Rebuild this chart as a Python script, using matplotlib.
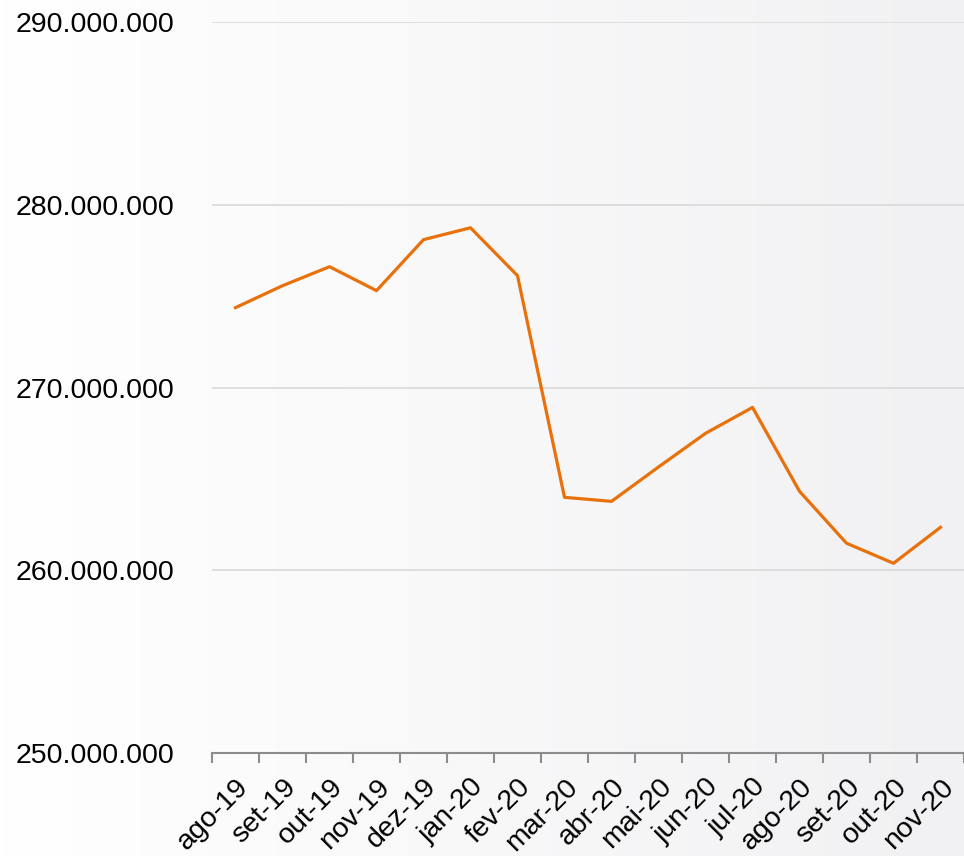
import numpy as np
import matplotlib.pyplot as plt
from matplotlib.colors import LinearSegmentedColormap
from matplotlib.transforms import ScaledTranslation
from matplotlib.ticker import FuncFormatter, FixedLocator

months = ["ago-19", "set-19", "out-19", "nov-19", "dez-19", "jan-20", "fev-20", "mar-20",
          "abr-20", "mai-20", "jun-20", "jul-20", "ago-20", "set-20", "out-20", "nov-20"]
values = [274.37, 275.57, 276.61, 275.30, 278.09, 278.74, 276.12, 263.99,
          263.77, 265.65, 267.49, 268.91, 264.32, 261.48, 260.38, 262.35]
values = [v * 1e6 for v in values]

plt.rcParams['font.family'] = ['Liberation Sans', 'DejaVu Sans']

fig = plt.figure(figsize=(9.64, 8.56), dpi=100)

# soft horizontal gradient behind everything
bg = fig.add_axes([0, 0, 1, 1], zorder=-10)
grad = np.linspace(0, 1, 256).reshape(1, -1)
bg.imshow(grad, aspect='auto', extent=[0, 1, 0, 1],
          cmap=LinearSegmentedColormap.from_list("bg", ["#ffffff", "#f1f1f3"]))
bg.set_axis_off()

W, H = 964, 856
ax = fig.add_axes([212 / W, 1 - 753 / H, (964 - 212) / W, (753 - 22) / H])
ax.patch.set_alpha(0)

x = np.arange(len(months))
ax.plot(x, values, color="#e8710c", linewidth=2.3)

ax.set_xlim(-0.5, len(months) - 0.5)
ax.set_ylim(250e6, 290e6)
ax.set_yticks([250e6, 260e6, 270e6, 280e6, 290e6])
ax.yaxis.set_major_formatter(FuncFormatter(lambda v, p: f"{v:,.0f}".replace(",", ".")))
ax.grid(axis='y', color="#d9d9d9", linewidth=1.2)
ax.set_axisbelow(True)

ax.set_xticks(x)
ax.set_xticklabels(months, rotation=45, ha='right', rotation_mode='anchor')
ax.xaxis.set_minor_locator(FixedLocator(np.arange(-0.5, len(months), 1.0)))
ax.tick_params(axis='x', which='major', length=0, pad=15, labelsize=20.5)
ax.tick_params(axis='x', which='minor', length=7, color="#8c8c8c", width=1.5)
ax.tick_params(axis='y', length=0, pad=27, labelsize=20.5)
shift = ScaledTranslation(0, 0, fig.dpi_scale_trans)
for lab in ax.get_xticklabels():
    lab.set_transform(lab.get_transform() + shift)

for s in ["top", "right", "left"]:
    ax.spines[s].set_visible(False)
ax.spines["bottom"].set_color("#8c8c8c")
ax.spines["bottom"].set_linewidth(1.5)

fig.savefig("out.png", dpi=100)
